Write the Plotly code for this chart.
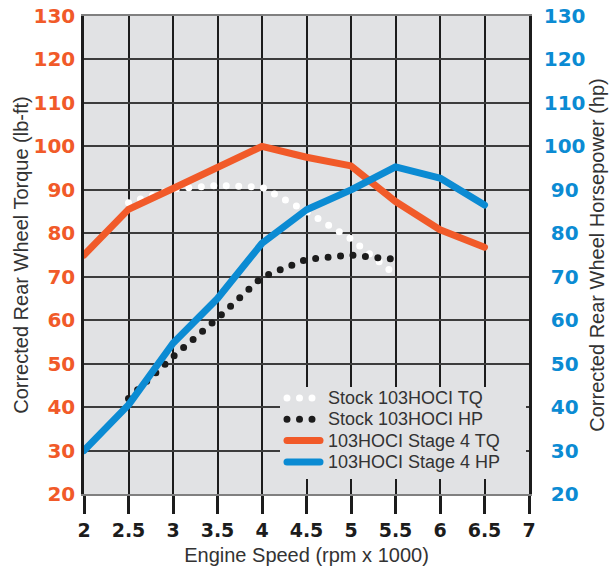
import plotly.graph_objects as go

# rpm x 1000
stock_rpm = [2.5, 3.0, 3.5, 4.0, 4.5, 5.0, 5.5]
stage4_rpm = [2.0, 2.5, 3.0, 3.5, 4.0, 4.5, 5.0, 5.5, 6.0, 6.5]

stock_tq = [87.0, 90.2, 91.0, 90.6, 85.0, 78.7, 70.4]
stock_hp = [42.0, 51.6, 60.4, 69.9, 74.0, 75.0, 74.0]
stage4_tq = [75.0, 85.5, 90.3, 95.0, 100.0, 97.5, 95.5, 87.3, 80.8, 76.8]
stage4_hp = [30.0, 40.5, 54.7, 65.0, 77.7, 85.4, 90.0, 95.3, 92.7, 86.5]

rpm_ticks = [2, 2.5, 3, 3.5, 4, 4.5, 5, 5.5, 6, 6.5, 7]
rpm_labels = ["2", "2.5", "3", "3.5", "4", "4.5", "5", "5.5", "6", "6.5", "7"]
y_ticks = [20, 30, 40, 50, 60, 70, 80, 90, 100, 110, 120, 130]
tq_labels = ["20", "30", "40", "50", "60", "70", "80", "90", "100", "110", "120", "130"]
# nbsp pad so the right labels sit centred like the original
hp_labels = ["\u00a0" + t if len(t) == 2 else t for t in tq_labels]

ORANGE = "#f15a29"
BLUE = "#0b8bd3"
BG = "#e1e2e4"
INK = "#1c1c1c"
TEXT = "#333333"
DOTS = "0px,12.5px"

tick_font = "DejaVu Sans"
title_font = "Liberation Sans"

series = [
    dict(name="Stock 103HOCI TQ", x=stock_rpm, y=stock_tq, color="white", width=7, dash=DOTS, axis="y"),
    dict(name="Stock 103HOCI HP", x=stock_rpm, y=stock_hp, color=INK, width=7, dash=DOTS, axis="y2"),
    dict(name="103HOCI Stage 4 TQ", x=stage4_rpm, y=stage4_tq, color=ORANGE, width=7, dash="solid", axis="y"),
    dict(name="103HOCI Stage 4 HP", x=stage4_rpm, y=stage4_hp, color=BLUE, width=7, dash="solid", axis="y2"),
]

fig = go.Figure()
for s in series:
    fig.add_trace(go.Scatter(
        x=s["x"], y=s["y"], mode="lines", name=s["name"], yaxis=s["axis"],
        line=dict(color=s["color"], width=s["width"], dash=s["dash"]),
        showlegend=False,
    ))

# plot area in px: x 84..529, y 16..494
def px(x):
    return (x - 84) / 445

def py(y):
    return (494 - y) / 478

# hand-drawn legend box (tighter rows than plotly's own legend)
shapes = [dict(type="rect", xref="paper", yref="paper", layer="above",
               x0=px(280), x1=px(526), y0=py(479), y1=py(387),
               fillcolor=BG, line=dict(width=0))]
annotations = []
for i, s in enumerate(series):
    row = 398 + i * 21.3
    shapes.append(dict(type="line", xref="paper", yref="paper", layer="above",
                       x0=px(287), x1=px(320), y0=py(row), y1=py(row),
                       line=dict(color=s["color"], width=s["width"], dash=s["dash"])))
    annotations.append(dict(xref="paper", yref="paper", x=px(326), y=py(row),
                            xanchor="left", yanchor="middle", showarrow=False,
                            text=s["name"],
                            font=dict(family=title_font, size=18, color=TEXT)))

fig.update_layout(
    width=612, height=566,
    margin=dict(l=84, r=83, t=16, b=72),
    paper_bgcolor="white",
    plot_bgcolor=BG,
    shapes=shapes,
    annotations=annotations,
    xaxis=dict(
        range=[2, 7], tickvals=rpm_ticks, ticktext=rpm_labels,
        showgrid=True, gridcolor=INK, gridwidth=2,
        showline=True, linecolor="#808080", linewidth=2, mirror=True,
        ticks="outside", ticklen=18, tickwidth=2.5, tickcolor=INK,
        tickfont=dict(family=tick_font, size=19, color=INK, weight="bold"),
        title=dict(text="Engine Speed (rpm x 1000)",
                   font=dict(family=title_font, size=20, color=TEXT),
                   standoff=10),
        zeroline=False, automargin=False,
    ),
    yaxis=dict(
        range=[20, 130], tickvals=y_ticks, ticktext=tq_labels,
        showgrid=True, gridcolor="#3c3c3c", gridwidth=1.5,
        showline=True, linecolor=INK, linewidth=2.5,
        ticks="", ticklabelstandoff=2,
        tickfont=dict(family=tick_font, size=20, color=ORANGE, weight="bold"),
        title=dict(text="Corrected Rear Wheel Torque (lb-ft)",
                   font=dict(family=title_font, size=20, color=TEXT),
                   standoff=0),
        zeroline=False, automargin=False,
    ),
    yaxis2=dict(
        range=[20, 130], tickvals=y_ticks, ticktext=hp_labels,
        overlaying="y", side="right",
        showgrid=False,
        showline=True, linecolor=INK, linewidth=2.5,
        ticks="", ticklabelstandoff=8,
        tickfont=dict(family=tick_font, size=20, color=BLUE, weight="bold"),
        title=dict(text="Corrected Rear Wheel Horsepower (hp)",
                   font=dict(family=title_font, size=20, color=TEXT),
                   standoff=0),
        zeroline=False, automargin=False,
    ),
)

# round dots/caps, and drop the page's default 8px body margin
page_fix = (
    "document.body.style.margin='0';"
    "var s=document.createElement('style');"
    "s.innerHTML='.js-line,.shapelayer path{stroke-linecap:round;stroke-linejoin:round}';"
    "document.head.appendChild(s);"
)
fig.write_html("out.html", post_script=page_fix, config={"displayModeBar": False})
